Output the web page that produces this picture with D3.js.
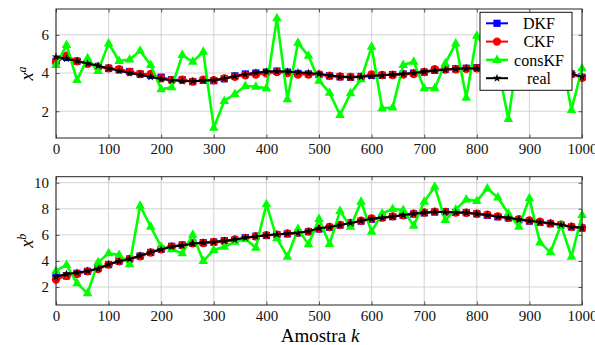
<!DOCTYPE html>
<html>
<head>
<meta charset="utf-8">
<script src="https://cdn.jsdelivr.net/npm/d3@7"></script>
<style>
  body { margin: 0; background: #fff; }
  svg, svg text { font-family: "Liberation Serif", "DejaVu Serif", serif; }
</style>
</head>
<body>
<svg id="chart" width="595" height="345"></svg>
<script>
// sample index k, every 20 samples
const samples = d3.range(0, 1001, 20);
const xTicks = [0, 100, 200, 300, 400, 500, 600, 700, 800, 900, 1000];

// state x^a
const realA = [4.85, 4.75, 4.63, 4.5, 4.38, 4.24, 4.12, 4.0, 3.9, 3.79, 3.69, 3.62, 3.58, 3.57, 3.6, 3.63, 3.7, 3.83, 3.93, 4.02, 4.07, 4.09, 4.07, 4.04, 4.0, 3.95, 3.88, 3.8, 3.77, 3.8, 3.84, 3.88, 3.91, 3.95, 4.0, 4.07, 4.12, 4.17, 4.22, 4.24, 4.24, 4.23, 4.2, 4.17, 4.13, 4.1, 4.06, 4.02, 4.0, 3.97, 3.8];
const dkfA = [4.62, 4.82, 4.62, 4.52, 4.35, 4.25, 4.18, 4.08, 3.95, 3.88, 3.78, 3.65, 3.65, 3.55, 3.62, 3.6, 3.7, 3.85, 3.95, 4.0, 4.05, 4.1, 4.05, 3.98, 3.95, 3.92, 3.85, 3.8, 3.78, 3.82, 3.88, 3.88, 3.92, 3.95, 4.0, 4.05, 4.15, 4.2, 4.22, 4.25, 4.28, 4.25, 4.2, 4.15, 4.12, 4.1, 4.05, 4.02, 3.98, 3.95, 3.78];
const ckfA = [4.6, 4.9, 4.62, 4.48, 4.32, 4.25, 4.2, 4.05, 3.95, 3.95, 3.72, 3.62, 3.65, 3.55, 3.65, 3.62, 3.72, 3.8, 3.88, 3.92, 3.98, 4.05, 4.0, 3.92, 3.92, 3.92, 3.85, 3.82, 3.8, 3.8, 3.92, 3.9, 3.9, 3.92, 3.95, 4.05, 4.2, 4.18, 4.2, 4.22, 4.25, 4.22, 4.18, 4.15, 4.12, 4.08, 4.05, 4.0, 3.98, 3.95, 3.75];
const consA = [4.42, 5.46, 3.63, 4.77, 4.1, 5.55, 4.63, 4.71, 5.16, 4.42, 3.15, 3.25, 4.94, 4.59, 5.11, 1.14, 2.54, 2.9, 3.32, 3.28, 3.2, 6.86, 2.63, 5.58, 4.9, 3.6, 2.97, 1.81, 2.94, 3.67, 5.37, 2.16, 2.19, 4.42, 4.59, 3.2, 3.2, 4.5, 5.55, 2.71, 5.95, 5.2, 4.35, 1.6, 5.3, 4.2, 4.7, 4.4, 5.0, 2.07, 4.25];

// state x^b
const realB = [2.79, 3.0, 3.1, 3.23, 3.4, 3.74, 3.97, 4.15, 4.4, 4.66, 4.89, 5.09, 5.19, 5.32, 5.4, 5.45, 5.53, 5.63, 5.78, 5.88, 5.96, 6.04, 6.09, 6.16, 6.27, 6.5, 6.6, 6.75, 6.9, 7.08, 7.23, 7.31, 7.39, 7.52, 7.62, 7.7, 7.75, 7.75, 7.72, 7.7, 7.6, 7.52, 7.39, 7.31, 7.18, 7.08, 6.98, 6.88, 6.77, 6.62, 6.54];
const dkfB = [2.9, 2.85, 3.05, 3.2, 3.45, 3.72, 4.0, 4.15, 4.38, 4.65, 4.9, 5.12, 5.22, 5.38, 5.4, 5.45, 5.55, 5.6, 5.78, 5.9, 5.95, 6.02, 6.08, 6.15, 6.25, 6.45, 6.58, 6.75, 6.9, 7.05, 7.2, 7.32, 7.4, 7.5, 7.6, 7.68, 7.75, 7.78, 7.72, 7.7, 7.62, 7.5, 7.38, 7.3, 7.15, 7.05, 6.95, 6.85, 6.75, 6.6, 6.52];
const ckfB = [2.58, 2.85, 3.0, 3.2, 3.38, 3.72, 3.98, 4.15, 4.35, 4.65, 4.9, 5.1, 5.2, 5.35, 5.38, 5.45, 5.5, 5.65, 5.75, 5.88, 5.98, 6.02, 6.1, 6.15, 6.25, 6.48, 6.6, 6.75, 6.92, 7.08, 7.25, 7.32, 7.42, 7.5, 7.62, 7.72, 7.78, 7.75, 7.72, 7.7, 7.62, 7.55, 7.42, 7.3, 7.2, 7.1, 7.0, 6.88, 6.78, 6.62, 6.55];
const consB = [3.23, 3.69, 2.28, 1.52, 3.89, 4.58, 4.45, 3.74, 8.23, 6.62, 5.09, 4.89, 4.58, 6.0, 3.99, 4.84, 5.09, 5.47, 5.68, 5.02, 8.34, 5.73, 4.32, 6.44, 5.27, 7.21, 5.3, 7.82, 6.62, 8.54, 6.24, 7.64, 7.98, 7.9, 6.7, 8.54, 9.69, 7.13, 7.95, 8.72, 8.59, 9.56, 8.87, 7.64, 6.62, 8.8, 5.42, 4.66, 6.75, 4.32, 7.52];

const seriesNames = ["DKF", "CKF", "consKF", "real"];
const yTicksA = [2, 4, 6];
const yTicksB = [2, 4, 6, 8, 10];

const styles = {
  DKF:    { color: "#0000ff", width: 2,   marker: "square" },
  CKF:    { color: "#ff0000", width: 2,   marker: "circle" },
  consKF: { color: "#00ff00", width: 2.6, marker: "triangle" },
  real:   { color: "#000000", width: 2,   marker: "star" }
};

const svg = d3.select("#chart");
const left = 56, right = 582;
const serif = '"Liberation Serif", serif';

const x = d3.scaleLinear().domain([0, 1000]).range([left, right]);

function marker(g, type, color) {
  if (type === "square") {
    g.append("rect").attr("x", -3.6).attr("y", -3.6).attr("width", 7.2).attr("height", 7.2).attr("fill", color);
  } else if (type === "circle") {
    g.append("circle").attr("r", 4.2).attr("fill", color);
  } else if (type === "triangle") {
    g.append("path").attr("d", "M0,-5.5L4.8,3L-4.8,3Z").attr("fill", color);
  } else {
    g.append("path").attr("d", d3.symbol(d3.symbolStar, 22)()).attr("fill", color);
  }
}

function panel(top, bottom, domain, yTicks, data, label) {
  const y = d3.scaleLinear().domain(domain).range([bottom, top]);
  const g = svg.append("g");

  // grid
  g.append("g").selectAll("line").data(xTicks).join("line")
    .attr("x1", d => x(d)).attr("x2", d => x(d)).attr("y1", top).attr("y2", bottom)
    .attr("stroke", "#c8c8c8").attr("stroke-width", 0.8);
  g.append("g").selectAll("line").data(yTicks).join("line")
    .attr("x1", left).attr("x2", right).attr("y1", d => y(d)).attr("y2", d => y(d))
    .attr("stroke", "#c8c8c8").attr("stroke-width", 0.8);

  // axes (ticks inward, like pgfplots)
  g.append("g").attr("transform", `translate(0,${bottom})`)
    .call(d3.axisBottom(x).tickValues(xTicks).tickSize(-3.5).tickPadding(5).tickFormat(d3.format("d")));
  g.append("g").attr("transform", `translate(${left},0)`)
    .call(d3.axisLeft(y).tickValues(yTicks).tickSize(-3.5).tickPadding(7).tickFormat(d3.format("d")));
  g.append("g").attr("transform", `translate(0,${top})`)
    .call(d3.axisTop(x).tickValues(xTicks).tickSize(-3.5).tickFormat(""));
  g.append("g").attr("transform", `translate(${right},0)`)
    .call(d3.axisRight(y).tickValues(yTicks).tickSize(-3.5).tickFormat(""));
  g.selectAll(".domain").remove();
  g.selectAll(".tick line").attr("stroke", "#333").attr("stroke-width", 0.8);
  g.selectAll(".tick text").style("font-family", serif).style("font-size", "15px").attr("fill", "#111");

  // series
  const line = d3.line().x((d, i) => x(samples[i])).y(d => y(d));
  seriesNames.forEach((name, si) => {
    const st = styles[name];
    const vals = data[si];
    g.append("path").attr("d", line(vals)).attr("fill", "none")
      .attr("stroke", st.color).attr("stroke-width", st.width).attr("stroke-linejoin", "round");
    g.append("g").selectAll("g").data(vals).join("g")
      .attr("transform", (d, i) => `translate(${x(samples[i])},${y(d)})`)
      .each(function () { marker(d3.select(this), st.marker, st.color); });
  });

  // frame
  g.append("rect").attr("x", left).attr("y", top).attr("width", right - left).attr("height", bottom - top)
    .attr("fill", "none").attr("stroke", "#222").attr("stroke-width", 1);

  // y label
  const t = g.append("text")
    .attr("transform", `translate(33,${(top + bottom) / 2}) rotate(-90)`)
    .attr("text-anchor", "middle").style("font-family", serif).style("font-size", "18px");
  t.append("tspan").attr("font-style", "italic").text("x");
  t.append("tspan").attr("font-style", "italic").style("font-size", "12px").attr("dy", -7).text(label);
  return g;
}

const gA = panel(9, 138, [0.6, 7.35], yTicksA, [dkfA, ckfA, consA, realA], "a");
panel(176.7, 305, [0.62, 10.46], yTicksB, [dkfB, ckfB, consB, realB], "b");

// legend
const leg = gA.append("g");
leg.append("rect").attr("x", 480).attr("y", 12.3).attr("width", 92).attr("height", 78)
  .attr("fill", "#fff").attr("stroke", "#111").attr("stroke-width", 1);
seriesNames.forEach((name, i) => {
  const st = styles[name];
  const cy = 23.3 + i * 18.3;
  leg.append("line").attr("x1", 486).attr("x2", 508).attr("y1", cy).attr("y2", cy)
    .attr("stroke", st.color).attr("stroke-width", st.width);
  const m = leg.append("g").attr("transform", `translate(497,${cy})`);
  marker(m, st.marker, st.color);
  leg.append("text").attr("x", 539).attr("y", cy).attr("dy", "0.35em")
    .attr("text-anchor", "middle").style("font-family", serif).style("font-size", "16px").text(name);
});

// x label
const xl = svg.append("text").attr("x", (left + right) / 2 + 1).attr("y", 342)
  .attr("text-anchor", "middle").style("font-family", serif).style("font-size", "19px");
xl.append("tspan").text("Amostra ");
xl.append("tspan").attr("font-style", "italic").text("k");
</script>
</body>
</html>
